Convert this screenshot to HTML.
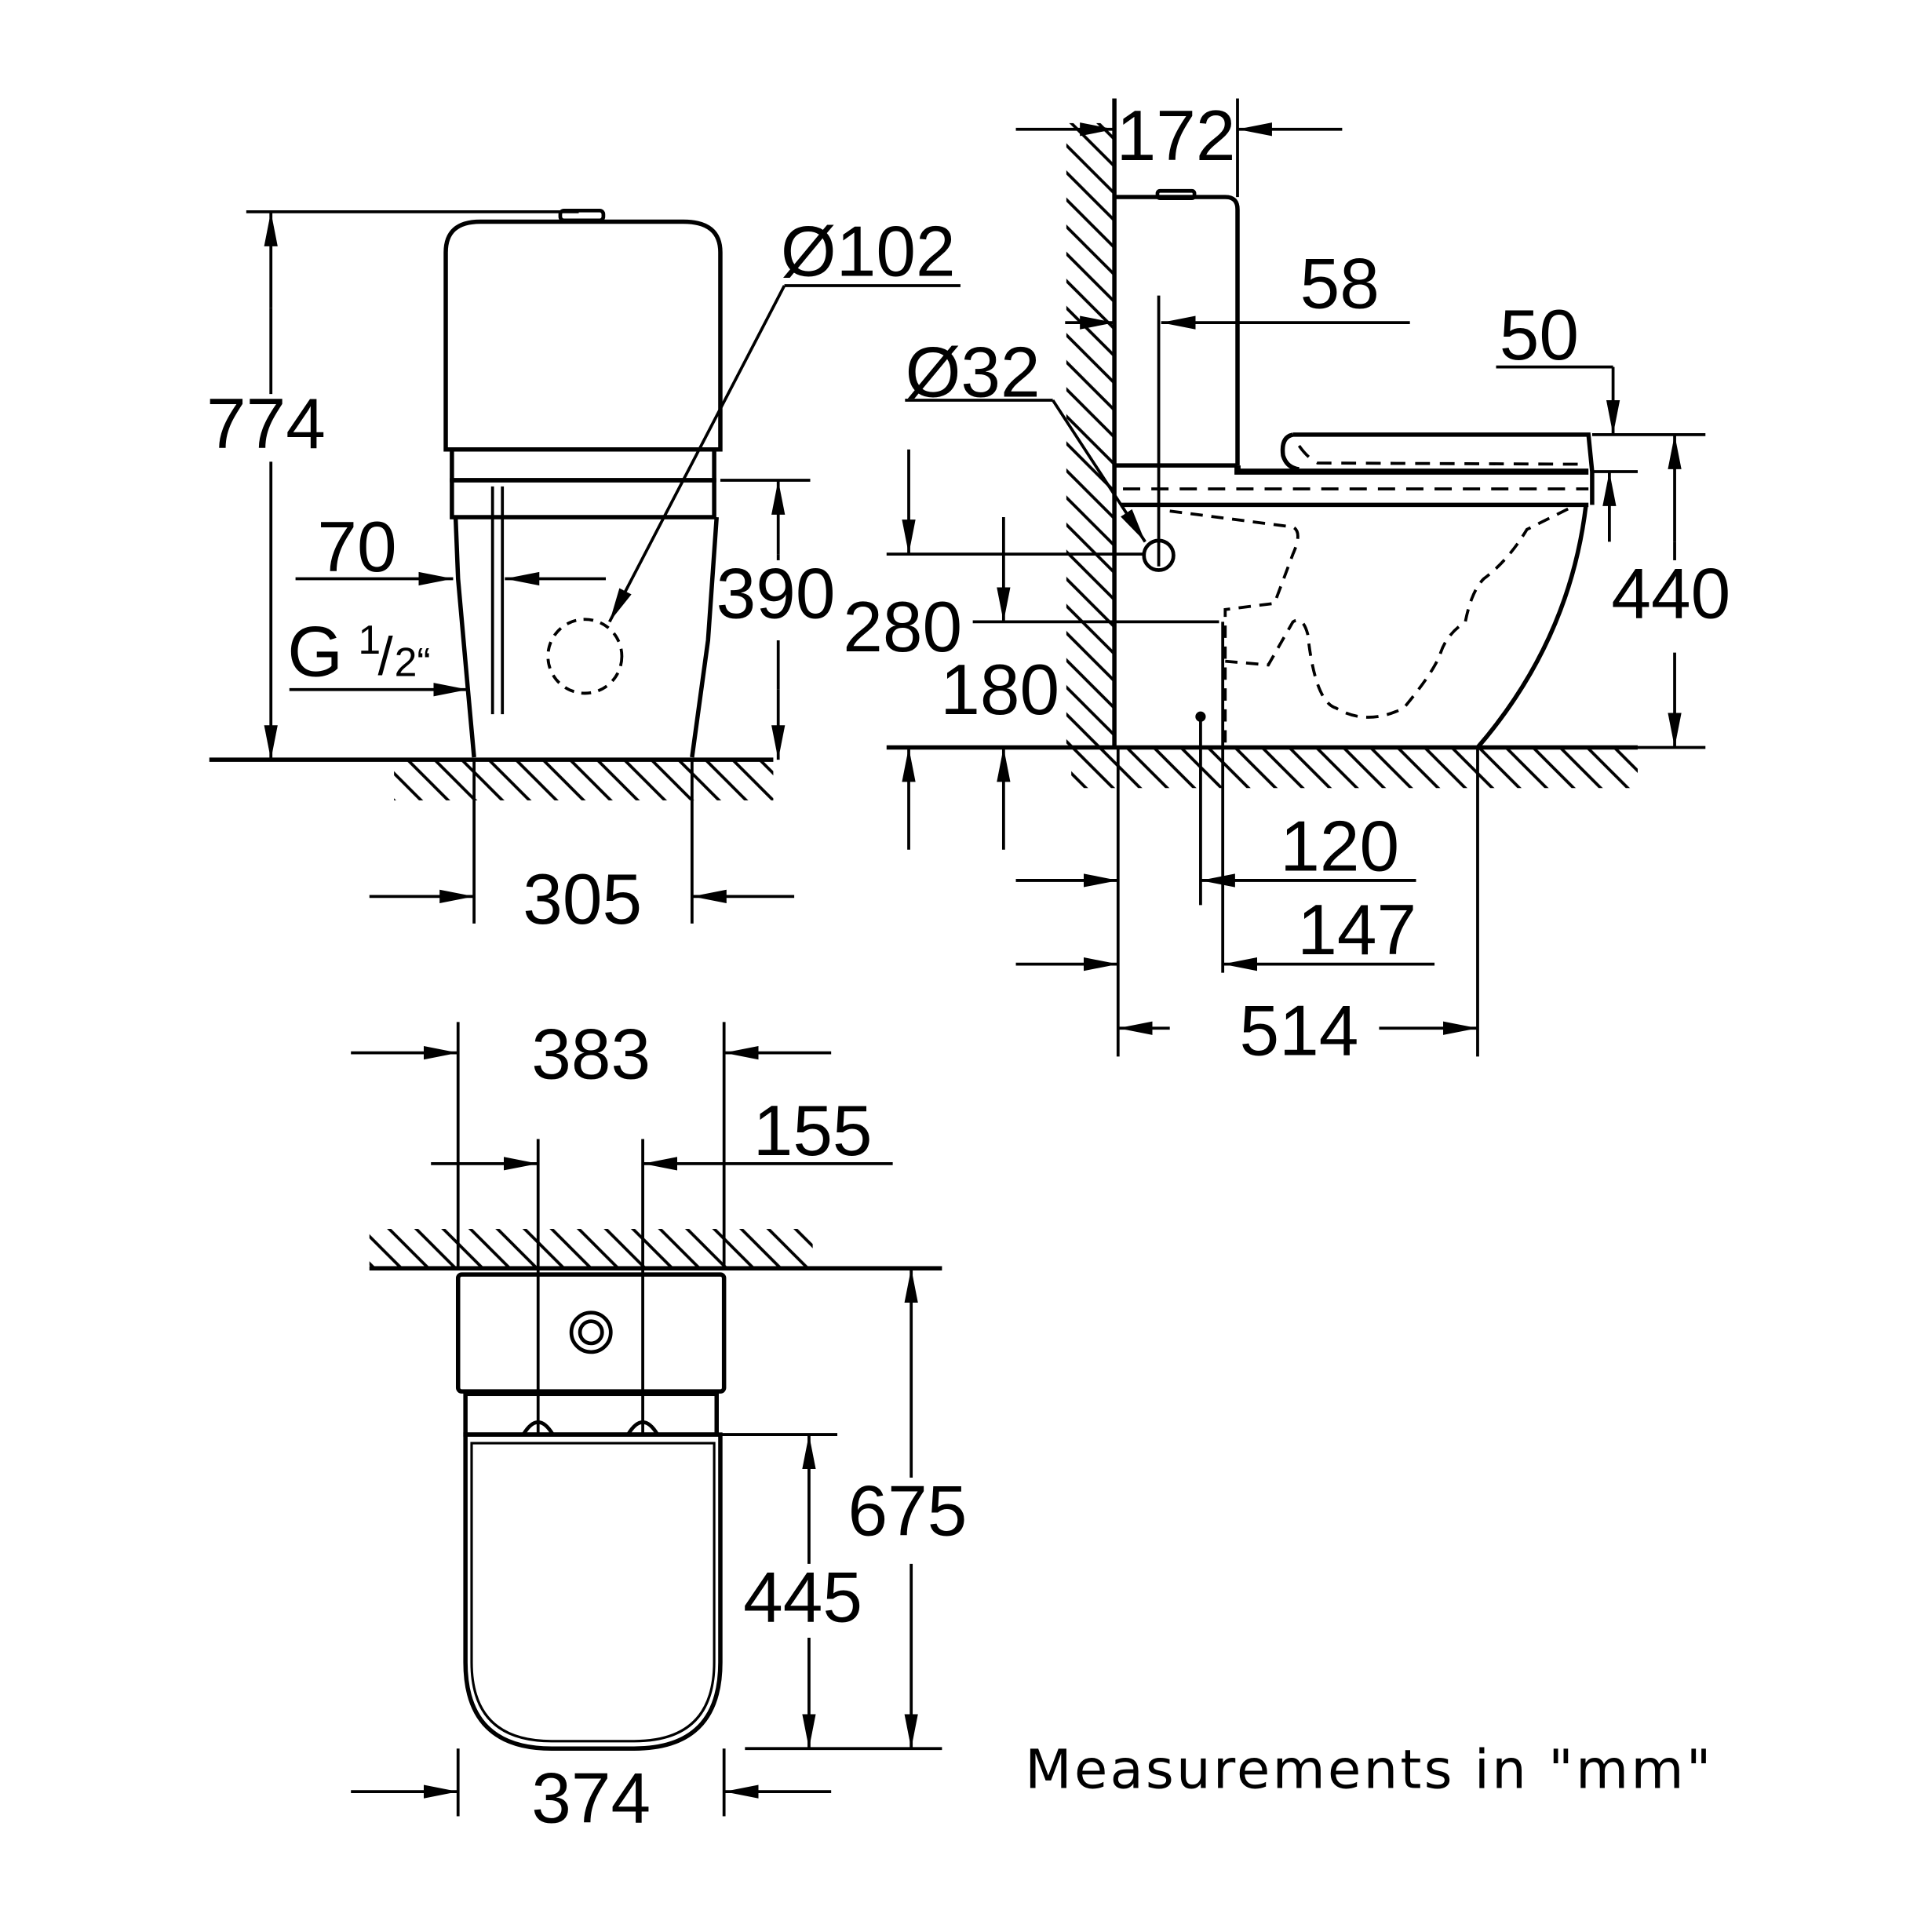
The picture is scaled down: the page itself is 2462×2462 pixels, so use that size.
<!DOCTYPE html>
<html><head><style>html,body{margin:0;padding:0;background:#fff}svg{display:block}</style></head>
<body>
<svg width="2462" height="2462" viewBox="0 0 1569 1569" xmlns="http://www.w3.org/2000/svg" font-family="Liberation Sans, sans-serif">
<defs>
<marker id="a" markerUnits="userSpaceOnUse" markerWidth="30" markerHeight="14" refX="28" refY="7" orient="auto"><path d="M0,1.5 L28,7 L0,12.5 Z" fill="#000"/></marker>
<pattern id="h" patternUnits="userSpaceOnUse" width="22" height="22"><path d="M-2,-2 L24,24 M-13,9 L13,35 M9,-13 L35,13" stroke="#000" stroke-width="2.4"/></pattern>
</defs>
<g stroke="#000" fill="none" stroke-width="2.4">
<!-- FRONT VIEW -->
<rect x="320" y="618" width="308" height="32" fill="url(#h)" stroke="none"/>
<line x1="170" y1="617" x2="628" y2="617" stroke-width="3.5"/>
<path d="M362,205 Q362,180 390,180 L555,180 Q585,180 585,205 L585,365 L362,365 Z" stroke-width="3.5"/>
<rect x="455" y="171" width="35" height="8" rx="3" stroke-width="3"/>
<rect x="367" y="365" width="213" height="25" stroke-width="3.5"/>
<rect x="367" y="390" width="213" height="30" stroke-width="3.5"/>
<path d="M370,420 L372,470 L380,560 L385,615" stroke-width="3.5"/>
<path d="M582,420 L575,520 L562,615" stroke-width="3.5"/>
<line x1="400" y1="395" x2="400" y2="580"/><line x1="408" y1="395" x2="408" y2="580"/>
<circle cx="475" cy="533" r="30" stroke-dasharray="8,6"/>
<line x1="200" y1="172" x2="470" y2="172"/>
<line x1="220" y1="250" x2="220" y2="172" marker-end="url(#a)"/>
<line x1="220" y1="520" x2="220" y2="617" marker-end="url(#a)"/>
<line x1="220" y1="250" x2="220" y2="320"/><line x1="220" y1="375" x2="220" y2="520"/>
<line x1="585" y1="390" x2="658" y2="390"/>
<line x1="632" y1="450" x2="632" y2="390" marker-end="url(#a)"/>
<line x1="632" y1="560" x2="632" y2="617" marker-end="url(#a)"/>
<line x1="632" y1="450" x2="632" y2="455"/><line x1="632" y1="520" x2="632" y2="560"/>
<line x1="240" y1="470" x2="368" y2="470" marker-end="url(#a)"/>
<line x1="492" y1="470" x2="410" y2="470" marker-end="url(#a)"/>
<line x1="235" y1="560" x2="380" y2="560" marker-end="url(#a)"/>
<polyline points="780,232 637,232"/>
<line x1="637" y1="232" x2="495" y2="505" marker-end="url(#a)"/>
<line x1="385" y1="617" x2="385" y2="750"/><line x1="562" y1="617" x2="562" y2="750"/>
<line x1="300" y1="728" x2="385" y2="728" marker-end="url(#a)"/>
<line x1="645" y1="728" x2="562" y2="728" marker-end="url(#a)"/>

<!-- SIDE VIEW -->
<rect x="866" y="100" width="39" height="507" fill="url(#h)" stroke="none"/>
<rect x="870" y="608" width="460" height="32" fill="url(#h)" stroke="none"/>
<line x1="905" y1="80" x2="905" y2="607" stroke-width="3.5"/>
<line x1="720" y1="607" x2="1330" y2="607" stroke-width="3.5"/>
<path d="M905,160 L995,160 Q1005,160 1005,170 L1005,378" stroke-width="3.5"/>
<rect x="940" y="155" width="30" height="6" rx="2" stroke-width="3"/>
<line x1="905" y1="378" x2="1005" y2="378" stroke-width="3.5"/>
<path d="M1005,378 L1005,383 L1290,383" stroke-width="5"/>
<path d="M1050,353 L1290,353 L1293,383 M1050,353 Q1040,355 1042,370 Q1045,380 1055,381" stroke-width="3.5"/>
<path d="M1055,362 Q1062,372 1070,376 L1285,377" stroke-dasharray="12,8"/>
<line x1="910" y1="410" x2="1290" y2="410" stroke-width="3.5"/>
<line x1="1293" y1="383" x2="1293" y2="410" stroke-width="3.5"/>
<line x1="912" y1="397" x2="1290" y2="397" stroke-dasharray="14,9"/>
<path d="M1288,410 Q1275,520 1200,607" stroke-width="3.5"/>
<path d="M950,415 L1050,428 Q1058,432 1050,450 L1035,490 L995,495 L995,605" stroke-dasharray="10,7"/>
<path d="M995,537 L1030,540 L1050,505 Q1058,500 1062,515 Q1068,570 1085,575 Q1110,590 1140,575 Q1165,545 1170,530 Q1175,515 1190,505 Q1195,480 1205,470 Q1225,455 1240,430 L1280,410" stroke-dasharray="10,7"/>
<circle cx="941" cy="451" r="12" stroke-width="3"/>
<line x1="941" y1="240" x2="941" y2="460"/>
<circle cx="975" cy="582" r="3" fill="#000"/>
<line x1="905" y1="80" x2="905" y2="160"/><line x1="1005" y1="80" x2="1005" y2="160"/>
<line x1="825" y1="105" x2="905" y2="105" marker-end="url(#a)"/>
<line x1="1090" y1="105" x2="1005" y2="105" marker-end="url(#a)"/>
<line x1="865" y1="262" x2="905" y2="262" marker-end="url(#a)"/>
<line x1="1145" y1="262" x2="943" y2="262" marker-end="url(#a)"/>
<line x1="735" y1="325" x2="855" y2="325"/>
<line x1="855" y1="325" x2="930" y2="440" marker-end="url(#a)"/>
<line x1="720" y1="450" x2="930" y2="450"/>
<line x1="738" y1="365" x2="738" y2="450" marker-end="url(#a)"/>
<line x1="738" y1="690" x2="738" y2="607" marker-end="url(#a)"/>
<line x1="790" y1="505" x2="990" y2="505"/>
<line x1="815" y1="420" x2="815" y2="505" marker-end="url(#a)"/>
<line x1="815" y1="690" x2="815" y2="607" marker-end="url(#a)"/>
<polyline points="1215,298 1310,298"/>
<line x1="1310" y1="298" x2="1310" y2="353" marker-end="url(#a)"/>
<line x1="1307" y1="440" x2="1307" y2="383" marker-end="url(#a)"/>
<line x1="1293" y1="353" x2="1385" y2="353"/><line x1="1293" y1="383" x2="1330" y2="383"/>
<line x1="1330" y1="607" x2="1385" y2="607"/>
<line x1="1360" y1="440" x2="1360" y2="353" marker-end="url(#a)"/>
<line x1="1360" y1="530" x2="1360" y2="607" marker-end="url(#a)"/>
<line x1="1360" y1="440" x2="1360" y2="455"/>
<line x1="975" y1="582" x2="975" y2="735"/>
<line x1="993" y1="505" x2="993" y2="790"/>
<line x1="908" y1="607" x2="908" y2="858"/>
<line x1="1200" y1="607" x2="1200" y2="858"/>
<line x1="1150" y1="715" x2="975" y2="715" marker-end="url(#a)"/>
<line x1="825" y1="715" x2="908" y2="715" marker-end="url(#a)"/>
<line x1="1165" y1="783" x2="993" y2="783" marker-end="url(#a)"/>
<line x1="825" y1="783" x2="908" y2="783" marker-end="url(#a)"/>
<line x1="950" y1="835" x2="908" y2="835" marker-end="url(#a)"/>
<line x1="1120" y1="835" x2="1200" y2="835" marker-end="url(#a)"/>

<!-- TOP VIEW -->
<rect x="300" y="998" width="360" height="31" fill="url(#h)" stroke="none"/>
<line x1="300" y1="1030" x2="765" y2="1030" stroke-width="3.5"/>
<rect x="372" y="1035" width="216" height="95" rx="3" stroke-width="3.5"/>
<circle cx="480" cy="1082" r="16" stroke-width="3"/><circle cx="480" cy="1082" r="9" stroke-width="3"/>
<rect x="378" y="1132" width="204" height="33" stroke-width="3.5"/>
<path d="M378,1165 L585,1165 L585,1350 Q585,1420 515,1420 L448,1420 Q378,1420 378,1350 Z" stroke-width="3.5"/>
<path d="M383,1172 L580,1172 L580,1350 Q580,1414 515,1414 L448,1414 Q383,1414 383,1350 Z" stroke-width="2"/>
<path d="M425,1165 Q437,1145 449,1165 M510,1165 Q522,1145 534,1165" stroke-width="3"/>
<line x1="372" y1="830" x2="372" y2="1030"/><line x1="588" y1="830" x2="588" y2="1030"/>
<line x1="285" y1="855" x2="372" y2="855" marker-end="url(#a)"/>
<line x1="675" y1="855" x2="588" y2="855" marker-end="url(#a)"/>
<line x1="437" y1="925" x2="437" y2="1165"/><line x1="522" y1="925" x2="522" y2="1165"/>
<line x1="350" y1="945" x2="437" y2="945" marker-end="url(#a)"/>
<line x1="725" y1="945" x2="522" y2="945" marker-end="url(#a)"/>
<line x1="585" y1="1165" x2="680" y2="1165"/>
<line x1="605" y1="1420" x2="765" y2="1420"/>
<line x1="740" y1="1200" x2="740" y2="1030" marker-end="url(#a)"/>
<line x1="740" y1="1270" x2="740" y2="1420" marker-end="url(#a)"/>
<line x1="657" y1="1270" x2="657" y2="1165" marker-end="url(#a)"/>
<line x1="657" y1="1330" x2="657" y2="1420" marker-end="url(#a)"/>
<line x1="372" y1="1420" x2="372" y2="1475"/><line x1="588" y1="1420" x2="588" y2="1475"/>
<line x1="285" y1="1455" x2="372" y2="1455" marker-end="url(#a)"/>
<line x1="675" y1="1455" x2="588" y2="1455" marker-end="url(#a)"/>
</g>
<g font-size="58" fill="#000" text-anchor="middle">
<text x="216" y="364">774</text>
<text x="630" y="502">390</text>
<text x="290" y="464">70</text>
<text x="256" y="549">G</text>
<text x="300" y="531" font-size="33">1</text>
<text x="313" y="548" font-size="44">/</text>
<text x="335" y="549" font-size="33">2“</text>
<text x="705" y="224">Ø102</text>
<text x="473" y="750">305</text>
<text x="955" y="130">172</text>
<text x="1088" y="250">58</text>
<text x="790" y="322">Ø32</text>
<text x="1250" y="292">50</text>
<text x="1357" y="502">440</text>
<text x="733" y="529">280</text>
<text x="812" y="580">180</text>
<text x="1088" y="707">120</text>
<text x="1102" y="775">147</text>
<text x="1055" y="857">514</text>
<text x="480" y="876">383</text>
<text x="660" y="938">155</text>
<text x="737" y="1247">675</text>
<text x="652" y="1317">445</text>
<text x="480" y="1480">374</text>
<text x="1112" y="1452" font-size="44" letter-spacing="2" font-family="DejaVu Sans, sans-serif">Measurements in "mm"</text>
</g>
</svg>
</body></html>
